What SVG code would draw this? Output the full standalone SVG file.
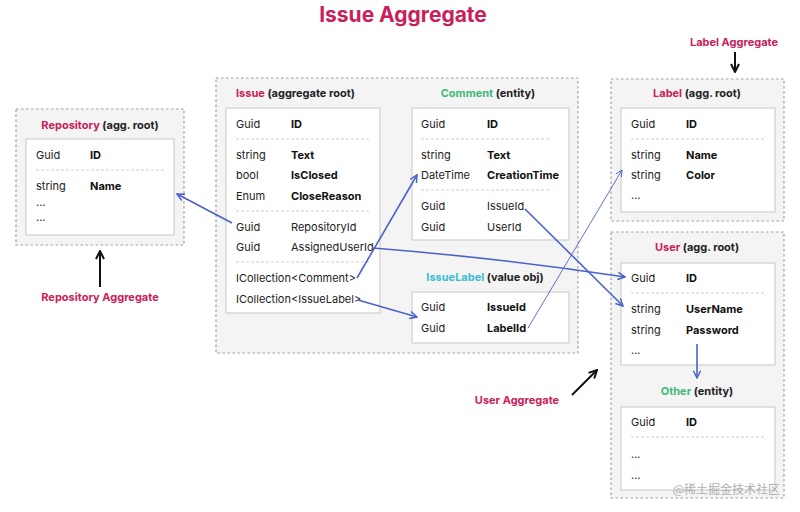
<svg xmlns="http://www.w3.org/2000/svg" width="800" height="512" viewBox="0 0 800 512">
<style>
text{font-family:Inter,"Liberation Sans",sans-serif;font-size:11px;fill:#222}
.b{font-weight:700;fill:#111}
.h{font-weight:700;font-size:11px;fill:#222}
.red{fill:#c9205a}
.grn{fill:#41b878}
.cyn{fill:#3bbdd4}
.agg{fill:#f4f4f4;stroke:#a0a0a0;stroke-width:1.2;stroke-dasharray:2.5 2.5}
.box{fill:#fff;stroke:#cfcfcf;stroke-width:1.2}
.sep{stroke:#cfcfcf;stroke-width:1;stroke-dasharray:3 2}
.con{fill:none;stroke:#4a62c9;stroke-width:1.6}
.thin{fill:none;stroke:#4a62c9;stroke-width:0.9}
.blk{fill:none;stroke:#111;stroke-width:2}
.mid{text-anchor:middle}
</style>
<defs>
<marker id="ab" viewBox="0 0 10 10" refX="9" refY="5" markerWidth="9" markerHeight="9" markerUnits="userSpaceOnUse" orient="auto"><path d="M1,1 L9,5 L1,9" fill="none" stroke="#4a62c9" stroke-width="1.6"/></marker>
<marker id="at" viewBox="0 0 10 10" refX="9" refY="5" markerWidth="8" markerHeight="8" markerUnits="userSpaceOnUse" orient="auto"><path d="M1,1 L9,5 L1,9" fill="none" stroke="#4a62c9" stroke-width="1.1"/></marker>
<marker id="ak" viewBox="0 0 10 10" refX="9" refY="5" markerWidth="10" markerHeight="10" markerUnits="userSpaceOnUse" orient="auto"><path d="M1,1 L9,5 L1,9" fill="none" stroke="#111" stroke-width="2"/></marker>
</defs>
<rect width="800" height="512" fill="#fff"/>
<text x="403" y="22" class="mid red" style="font-size:21px;font-weight:700">Issue Aggregate</text>

<g id="repository">
<rect class="agg" x="16" y="109" width="168" height="136"/>
<text x="100" y="129" class="mid h"><tspan class="red">Repository</tspan> (agg. root)</text>
<rect class="box" x="26" y="139" width="148" height="96"/>
<text x="36" y="159">Guid</text><text x="90" y="159" class="b">ID</text>
<line class="sep" x1="36" y1="170" x2="165" y2="170"/>
<text x="36" y="190">string</text><text x="90" y="190" class="b">Name</text>
<text x="36" y="206">...</text>
<text x="36" y="221">...</text>
</g>

<g id="issue-aggregate">
<rect class="agg" x="216" y="78" width="362" height="275"/>
</g>

<g id="issue">
<text x="236" y="97" class="h"><tspan class="red">Issue</tspan> (aggregate root)</text>
<rect class="box" x="226" y="108" width="154" height="205"/>
<text x="236" y="128">Guid</text><text x="291" y="128" class="b">ID</text>
<line class="sep" x1="236" y1="139" x2="370" y2="139"/>
<text x="236" y="159">string</text><text x="291" y="159" class="b">Text</text>
<text x="236" y="179">bool</text><text x="291" y="179" class="b">IsClosed</text>
<text x="236" y="200">Enum</text><text x="291" y="200" class="b">CloseReason</text>
<line class="sep" x1="236" y1="211" x2="370" y2="211"/>
<text x="236" y="231">Guid</text><text x="291" y="231">RepositoryId</text>
<text x="236" y="251">Guid</text><text x="291" y="251">AssignedUserId</text>
<line class="sep" x1="236" y1="262" x2="370" y2="262"/>
<text x="236" y="282">ICollection&lt;Comment&gt;</text>
<text x="236" y="303">ICollection&lt;IssueLabel&gt;</text>
</g>

<g id="comment">
<text x="488" y="97" class="mid h"><tspan class="grn">Comment</tspan> (entity)</text>
<rect class="box" x="412" y="108" width="157" height="132"/>
<text x="421" y="128">Guid</text><text x="487" y="128" class="b">ID</text>
<line class="sep" x1="421" y1="139" x2="550" y2="139"/>
<text x="421" y="159">string</text><text x="487" y="159" class="b">Text</text>
<text x="421" y="179">DateTime</text><text x="487" y="179" class="b">CreationTime</text>
<line class="sep" x1="421" y1="190" x2="550" y2="190"/>
<text x="421" y="210">Guid</text><text x="487" y="210">IssueId</text>
<text x="421" y="231">Guid</text><text x="487" y="231">UserId</text>
</g>

<g id="issuelabel">
<text x="485" y="281" class="mid h"><tspan class="cyn">IssueLabel</tspan> (value obj)</text>
<rect class="box" x="412" y="292" width="157" height="51"/>
<text x="421" y="311">Guid</text><text x="487" y="311" class="b">IssueId</text>
<text x="421" y="332">Guid</text><text x="487" y="332" class="b">LabelId</text>
</g>

<g id="label">
<rect class="agg" x="611" y="79" width="173" height="142"/>
<text x="697" y="97" class="mid h"><tspan class="red">Label</tspan> (agg. root)</text>
<rect class="box" x="621" y="108" width="154" height="104"/>
<text x="631" y="128">Guid</text><text x="686" y="128" class="b">ID</text>
<line class="sep" x1="631" y1="139" x2="765" y2="139"/>
<text x="631" y="159">string</text><text x="686" y="159" class="b">Name</text>
<text x="631" y="179">string</text><text x="686" y="179" class="b">Color</text>
<text x="631" y="199">...</text>
</g>

<g id="user">
<rect class="agg" x="611" y="232" width="173" height="266"/>
<text x="697" y="251" class="mid h"><tspan class="red">User</tspan> (agg. root)</text>
<rect class="box" x="621" y="263" width="154" height="102"/>
<text x="631" y="282">Guid</text><text x="686" y="282" class="b">ID</text>
<line class="sep" x1="631" y1="293" x2="765" y2="293"/>
<text x="631" y="313">string</text><text x="686" y="313" class="b">UserName</text>
<text x="631" y="334">string</text><text x="686" y="334" class="b">Password</text>
<text x="631" y="354">...</text>
</g>

<g id="other">
<text x="697" y="395" class="mid h"><tspan class="grn">Other</tspan> (entity)</text>
<rect class="box" x="621" y="407" width="154" height="83"/>
<text x="631" y="426">Guid</text><text x="686" y="426" class="b">ID</text>
<line class="sep" x1="631" y1="437" x2="765" y2="437"/>
<text x="631" y="458">...</text>
<text x="631" y="479">...</text>
</g>

<g id="aggregate-labels">
<text x="100" y="301" class="mid red" style="font-weight:700">Repository Aggregate</text>
<text x="734" y="46" class="mid red" style="font-weight:700">Label Aggregate</text>
<text x="517" y="404" class="mid red" style="font-weight:700">User Aggregate</text>
</g>

<g id="connectors">
<line class="con" x1="232" y1="223" x2="177" y2="194" marker-end="url(#ab)"/>
<line class="con" x1="357" y1="278" x2="417" y2="175" marker-end="url(#ab)"/>
<line class="con" x1="358" y1="300" x2="417" y2="317" marker-end="url(#ab)"/>
<path class="con" d="M373,248 Q500,258 625,277" marker-end="url(#ab)"/>
<line class="con" x1="525" y1="209" x2="623" y2="306" marker-end="url(#ab)"/>
<line class="thin" x1="528" y1="328" x2="622" y2="170" marker-end="url(#at)"/>
<line class="con" x1="697" y1="344" x2="697" y2="378" marker-end="url(#ab)"/>
<line class="blk" x1="100" y1="287" x2="100" y2="251" marker-end="url(#ak)"/>
<line class="blk" x1="735" y1="52" x2="735" y2="72" marker-end="url(#ak)"/>
<line class="blk" x1="572" y1="395" x2="597" y2="370" marker-end="url(#ak)"/>
</g>

<text x="780" y="494" style="font-family:'Noto Sans CJK SC',sans-serif;font-size:12px;fill:#b0b0b0;text-anchor:end">@稀土掘金技术社区</text>
</svg>
